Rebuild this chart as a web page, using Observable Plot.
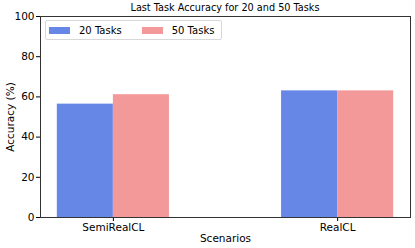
<!DOCTYPE html>
<html><head><meta charset="utf-8">
<script src="https://cdn.jsdelivr.net/npm/d3@7"></script>
<script src="https://cdn.jsdelivr.net/npm/@observablehq/plot@0.6"></script>
<style>
body{margin:0;background:#fff;font-family:"DejaVu Sans",sans-serif;}
#wrap{position:relative;width:415px;height:248px;}
#title{position:absolute;left:0;top:1px;height:14px;line-height:14px;font-size:9.7px;text-align:center;padding-left:40px;padding-right:5px;box-sizing:border-box;width:415px;color:#000;white-space:nowrap;}
#legend{position:absolute;left:45px;top:20px;width:177px;height:20px;border:1px solid #d8d8d8;border-radius:2px;background:rgba(255,255,255,0.8);font-size:10px;display:flex;align-items:center;box-sizing:border-box;white-space:nowrap;}
#legend span{flex-shrink:0;}
.sw{display:inline-block;width:21px;height:7px;margin-left:3px;margin-right:9px;}
</style></head>
<body>
<div id="wrap">
<div id="chart"></div>
<div id="title">Last Task Accuracy for 20 and 50 Tasks</div>
<div id="legend"></div>
</div>
<script>
const scenarios = ["SemiRealCL", "RealCL"];
const series = ["20 Tasks", "50 Tasks"];
const values20 = [56.4, 63.0];
const values50 = [61.1, 63.0];
const colors = ["#6787e7", "#f39999"];
const yTicks = [0, 20, 40, 60, 80, 100];

const barWidth = 0.25;
const data = [];
[values20, values50].forEach((vals, s) => {
  vals.forEach((v, i) => {
    data.push({scenario: scenarios[i], series: series[s], i, s, value: v,
      x1: i + (s - 1) * barWidth, x2: i + s * barWidth});
  });
});

const chart = Plot.plot({
  width: 415,
  height: 248,
  marginLeft: 40,
  marginRight: 5,
  marginTop: 16,
  marginBottom: 31,
  style: {fontFamily: "DejaVu Sans, sans-serif", fontSize: "10.5px", color: "#000", background: "#fff"},
  x: {type: "linear", domain: [-0.325, 1.325]},
  y: {domain: [0, 100]},
  color: {domain: series, range: colors},
  marks: [
    Plot.rectY(data, {x1: "x1", x2: "x2", y: "value", fill: "series"}),
    Plot.axisY({ticks: yTicks, tickSize: 4, tickPadding: 2, label: "Accuracy (%)", labelAnchor: "center", labelArrow: "none", labelOffset: 34, fontSize: 10.5}),
    Plot.axisX({ticks: scenarios.map((d, i) => i), tickFormat: i => scenarios[i], tickSize: 4, tickPadding: 2, label: "Scenarios", labelAnchor: "center", labelOffset: 24, labelArrow: "none", fontSize: 10.5}),
    Plot.frame({stroke: "#333", strokeWidth: 1})
  ]
});
document.getElementById("chart").appendChild(chart);

const leg = document.getElementById("legend");
series.forEach((s, k) => {
  const sw = document.createElement("span");
  sw.className = "sw";
  sw.style.background = colors[k];
  if (k > 0) sw.style.marginLeft = "20px";
  const t = document.createElement("span");
  t.textContent = s;
  leg.appendChild(sw); leg.appendChild(t);
});
</script>
</body></html>
